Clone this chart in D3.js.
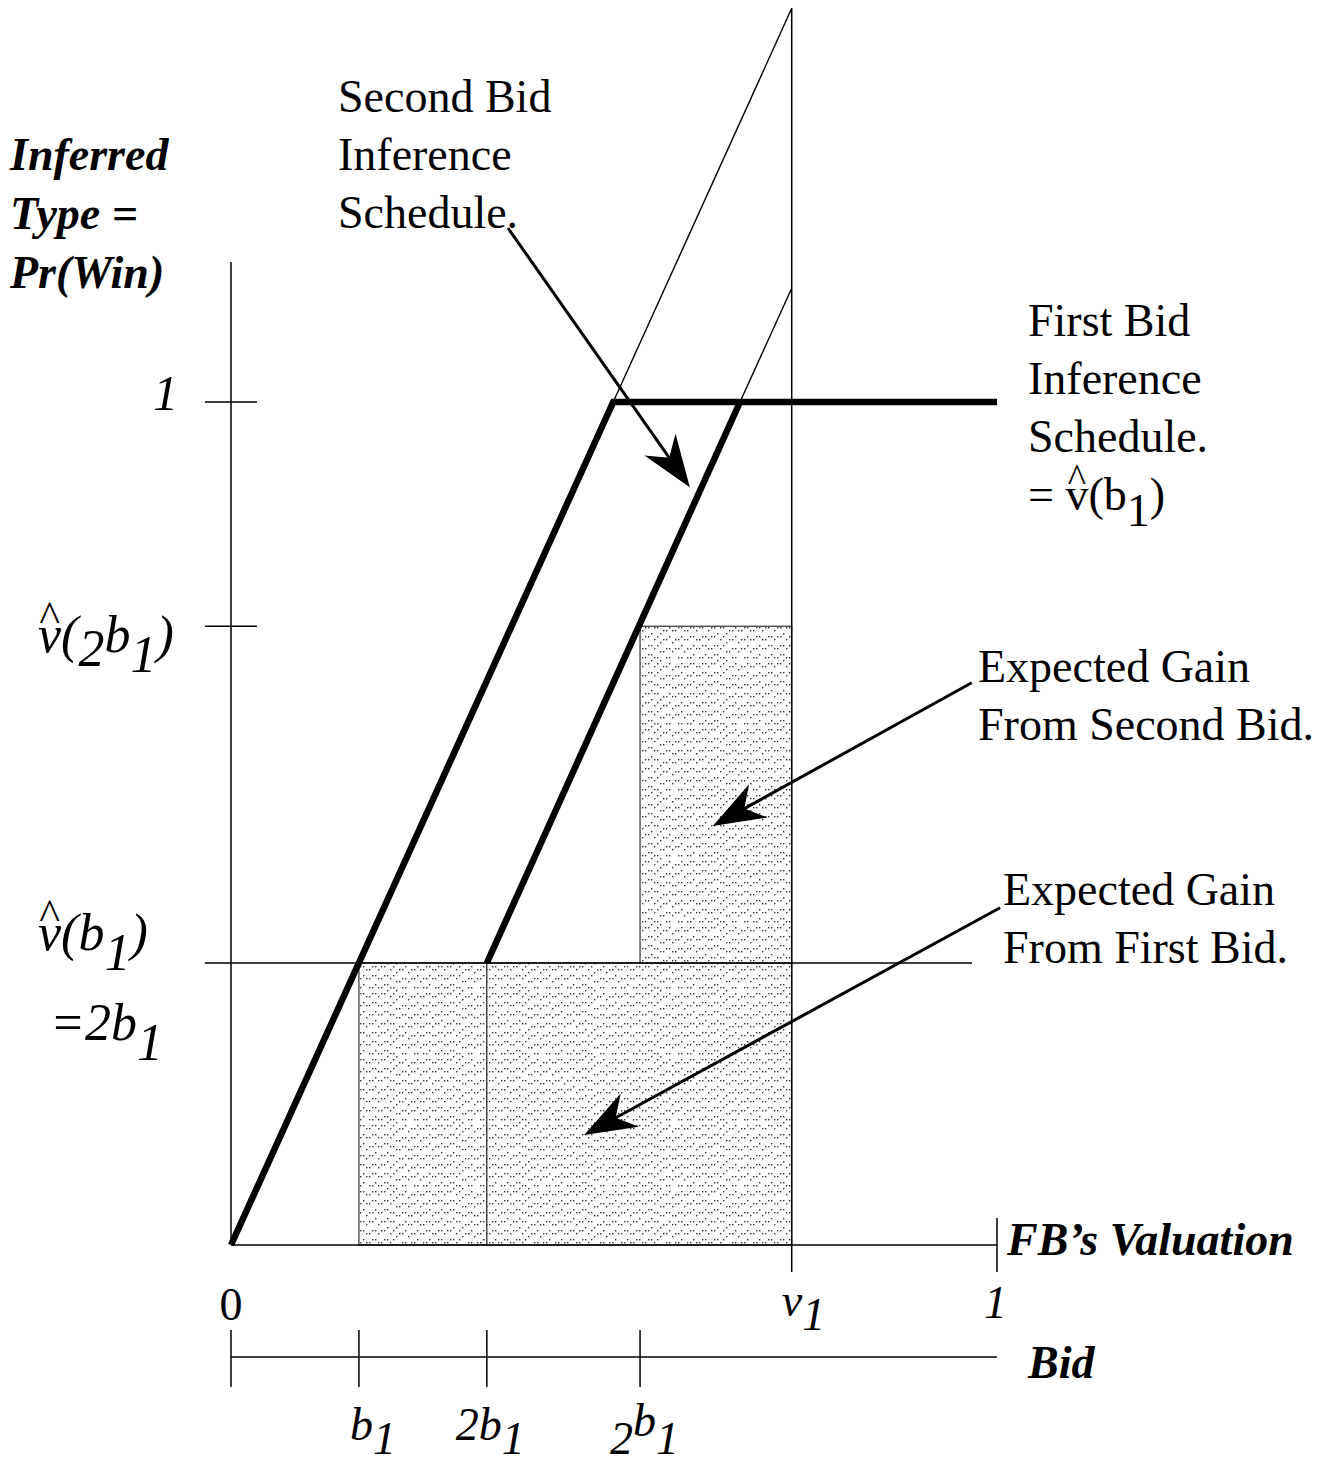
<!DOCTYPE html>
<html>
<head>
<meta charset="utf-8">
<script src="https://cdn.jsdelivr.net/npm/d3@7"></script>
<style>
    body { margin:0; background:#fff; }
    svg text { font-family: "Liberation Serif", "Times New Roman", serif; fill:#000; }
</style>
</head>
<body>
<div id="chart"></div>
<script>

//******************************************************************************
//**  Data (x = FB's valuation, y = inferred type), both on a 0..1 scale
//******************************************************************************
var v1 = 0.732;
var bidTicks = [0, 0.167, 0.334, 0.534];
var yTicks = [1, 0.734, 0.3345];
var firstSchedule = [[0, 0], [0.499, 1], [1, 1]];
var secondSchedule = [[0.334, 0.3345], [0.6645, 1]];
var firstExtension = [[0.499, 1], [v1, 1.467]];
var secondExtension = [[0.6645, 1], [v1, 1.135]];
var gainAreas = [
    {x0: 0.167, x1: 0.334, y0: 0, y1: 0.3345},
    {x0: 0.334, x1: v1, y0: 0, y1: 0.3345},
    {x0: 0.534, x1: v1, y0: 0.3345, y1: 0.734}
];
var arrows = [
    {from: [0.3616, 1.2064], to: [0.599, 0.899]},
    {from: [0.967, 0.667], to: [0.629, 0.497]},
    {from: [1.004, 0.40], to: [0.461, 0.1305]}
];


//******************************************************************************
//**  Chart
//******************************************************************************
var width = 1332, height = 1465;
var fs = 46;

var svg = d3.select("#chart").append("svg")
    .attr("width", width)
    .attr("height", height);

var x = d3.scaleLinear().domain([0, 1]).range([231, 997]);
var y = d3.scaleLinear().domain([0, 1]).range([1245, 402]);
var bidY = 1357;


  //**************************************************************************
  //** Stipple pattern
  //**************************************************************************
    var defs = svg.append("defs");
    var pat = defs.append("pattern")
        .attr("id", "stipple")
        .attr("patternUnits", "userSpaceOnUse")
        .attr("width", 66).attr("height", 66);
    pat.append("rect").attr("width", 66).attr("height", 66).attr("fill", "#fff");
    for (var i=0; i<22; i++){
        for (var j=0; j<22; j++){
            var h = (i*37 + j*61 + i*j*13 + (i>>2)*7) % 13;
            if (h < 4){
                pat.append("rect")
                    .attr("x", i*3).attr("y", j*3)
                    .attr("width", 1.4).attr("height", 1.4)
                    .attr("fill", "#333");
            }
        }
    }


  //**************************************************************************
  //** Shaded gain areas
  //**************************************************************************
    svg.selectAll("rect.gain").data(gainAreas).enter().append("rect")
        .attr("class", "gain")
        .attr("x", function(d){ return x(d.x0); })
        .attr("y", function(d){ return y(d.y1); })
        .attr("width", function(d){ return x(d.x1)-x(d.x0); })
        .attr("height", function(d){ return y(d.y0)-y(d.y1); })
        .attr("fill", "url(#stipple)")
        .attr("stroke", "#333")
        .attr("stroke-width", 1.2);


  //**************************************************************************
  //** Axes and guide lines
  //**************************************************************************
    var thin = function(x1, y1, x2, y2, w){
        svg.append("line")
            .attr("x1", x1).attr("y1", y1).attr("x2", x2).attr("y2", y2)
            .attr("stroke", "#000").attr("stroke-width", w || 1.5);
    };

    thin(x(0), 262, x(0), y(0));            //y axis
    thin(x(0), y(0), x(1), y(0));           //valuation axis
    thin(x(1), 1218, x(1), 1272);           //tick at 1
    thin(x(v1), 8, x(v1), 1272);            //v1 line
    thin(205, y(yTicks[0]), 257, y(yTicks[0]));
    thin(205, y(yTicks[1]), 257, y(yTicks[1]));
    thin(205, y(yTicks[2]), 972, y(yTicks[2]), 1.3);

  //Bid axis
    thin(x(0), bidY, x(1), bidY);
    bidTicks.forEach(function(b){
        thin(x(b), 1330, x(b), 1387);
    });


  //**************************************************************************
  //** Inference schedules
  //**************************************************************************
    var line = d3.line()
        .x(function(d){ return x(d[0]); })
        .y(function(d){ return y(d[1]); });

    [firstExtension, secondExtension].forEach(function(d){
        svg.append("path").attr("d", line(d))
            .attr("fill", "none").attr("stroke", "#000").attr("stroke-width", 1.4);
    });

    [firstSchedule, secondSchedule].forEach(function(d){
        svg.append("path").attr("d", line(d))
            .attr("fill", "none").attr("stroke", "#000")
            .attr("stroke-width", 6.5)
            .attr("stroke-linejoin", "miter");
    });


  //**************************************************************************
  //** Arrows
  //**************************************************************************
    arrows.forEach(function(a){
        var x1 = x(a.from[0]), y1 = y(a.from[1]);
        var x2 = x(a.to[0]), y2 = y(a.to[1]);
        var ang = Math.atan2(y2-y1, x2-x1);
        var len = 52, half = 19, notch = 36;
        var ux = Math.cos(ang), uy = Math.sin(ang);
        var px = -uy, py = ux;
        var bx = x2 - ux*len, by = y2 - uy*len;
        var nx = x2 - ux*notch, ny = y2 - uy*notch;

        svg.append("line")
            .attr("x1", x1).attr("y1", y1).attr("x2", nx).attr("y2", ny)
            .attr("stroke", "#000").attr("stroke-width", 3);

        svg.append("path")
            .attr("d", "M" + x2 + "," + y2 +
                "L" + (bx + px*half) + "," + (by + py*half) +
                "L" + nx + "," + ny +
                "L" + (bx - px*half) + "," + (by - py*half) + "Z")
            .attr("fill", "#000");
    });


  //**************************************************************************
  //** Text helpers
  //**************************************************************************
  //parts: plain strings, [string, baseline offset] or {hat:true} to put a
  //caret over the preceding character
    var addText = function(parts, x0, y0, style){
        style = style || {};
        var size = style.size || fs;
        var t = svg.append("text")
            .attr("x", x0).attr("y", y0)
            .attr("font-size", size)
            .attr("font-style", style.italic ? "italic" : "normal")
            .attr("font-weight", style.bold ? "bold" : "normal")
            .attr("text-anchor", style.anchor || "start");
        var prev = 0, last = null, extraDx = 0, extraDy = 0;
        parts.forEach(function(p){
            if (p.hat){
                var lift = 0.4*size;
                var hat = t.append("tspan")
                    .attr("font-size", size*0.85)
                    .attr("font-style", "normal")
                    .attr("dy", -lift)
                    .text("^");
                var vw = last.node().getSubStringLength(last.text().length-1, 1);
                var hw = hat.node().getComputedTextLength();
                hat.attr("dx", -(vw+hw)/2);
                extraDx = (vw-hw)/2;
                extraDy = lift;
                return;
            }
            var s = typeof p === "string" ? p : p[0];
            var dy = typeof p === "string" ? 0 : p[1];
            last = t.append("tspan")
                .attr("dx", extraDx)
                .attr("dy", dy - prev + extraDy)
                .text(s);
            extraDx = 0; extraDy = 0;
            prev = dy;
        });
        return t;
    };

    var lines = function(arr, x0, y0, step, style){
        arr.forEach(function(s, i){ addText([s], x0, y0 + i*step, style); });
    };


  //**************************************************************************
  //** Labels
  //**************************************************************************
    lines(["Inferred", "Type =", "Pr(Win)"], 10, 170, 59, {bold:true, italic:true});
    lines(["Second Bid", "Inference", "Schedule."], 338, 112, 58);
    lines(["First Bid", "Inference", "Schedule."], 1028, 336, 58);
    addText(["= v", {hat:true}, "(b", ["1", 16], ")"], 1028, 510);
    lines(["Expected Gain", "From Second Bid."], 978, 682, 58);
    lines(["Expected Gain", "From First Bid."], 1003, 905, 58);

    addText(["FB\u2019s Valuation"], 1007, 1255, {bold:true, italic:true});
    addText(["Bid"], 1028, 1378, {bold:true, italic:true});

  //Valuation axis labels
    addText(["0"], x(0), 1320, {anchor:"middle"});
    addText(["v", ["1", 14]], x(v1) - 10, 1316, {italic:true});
    addText(["1"], x(1) - 13, 1318, {italic:true});

  //Bid axis labels
    addText(["b", ["1", 14]], x(bidTicks[1]) - 9, 1440, {italic:true});
    addText(["2b", ["1", 14]], x(bidTicks[2]) - 31, 1440, {italic:true});
    addText([["2", 14], ["b", -4], ["1", 14]], x(bidTicks[3]) - 30, 1440, {italic:true});

  //Inferred type labels
    addText(["1"], 178, 410, {italic:true, anchor:"end", size:50});
    addText(["v", {hat:true}, "(", ["2", 14], ["b", 0], ["1", 20], ")"], 38, 652, {italic:true, size:52});
    addText(["v", {hat:true}, "(b", ["1", 20], ")"], 38, 950, {italic:true, size:52});
    addText(["=2b", ["1", 20]], 50, 1040, {italic:true, size:52});

</script>
</body>
</html>
